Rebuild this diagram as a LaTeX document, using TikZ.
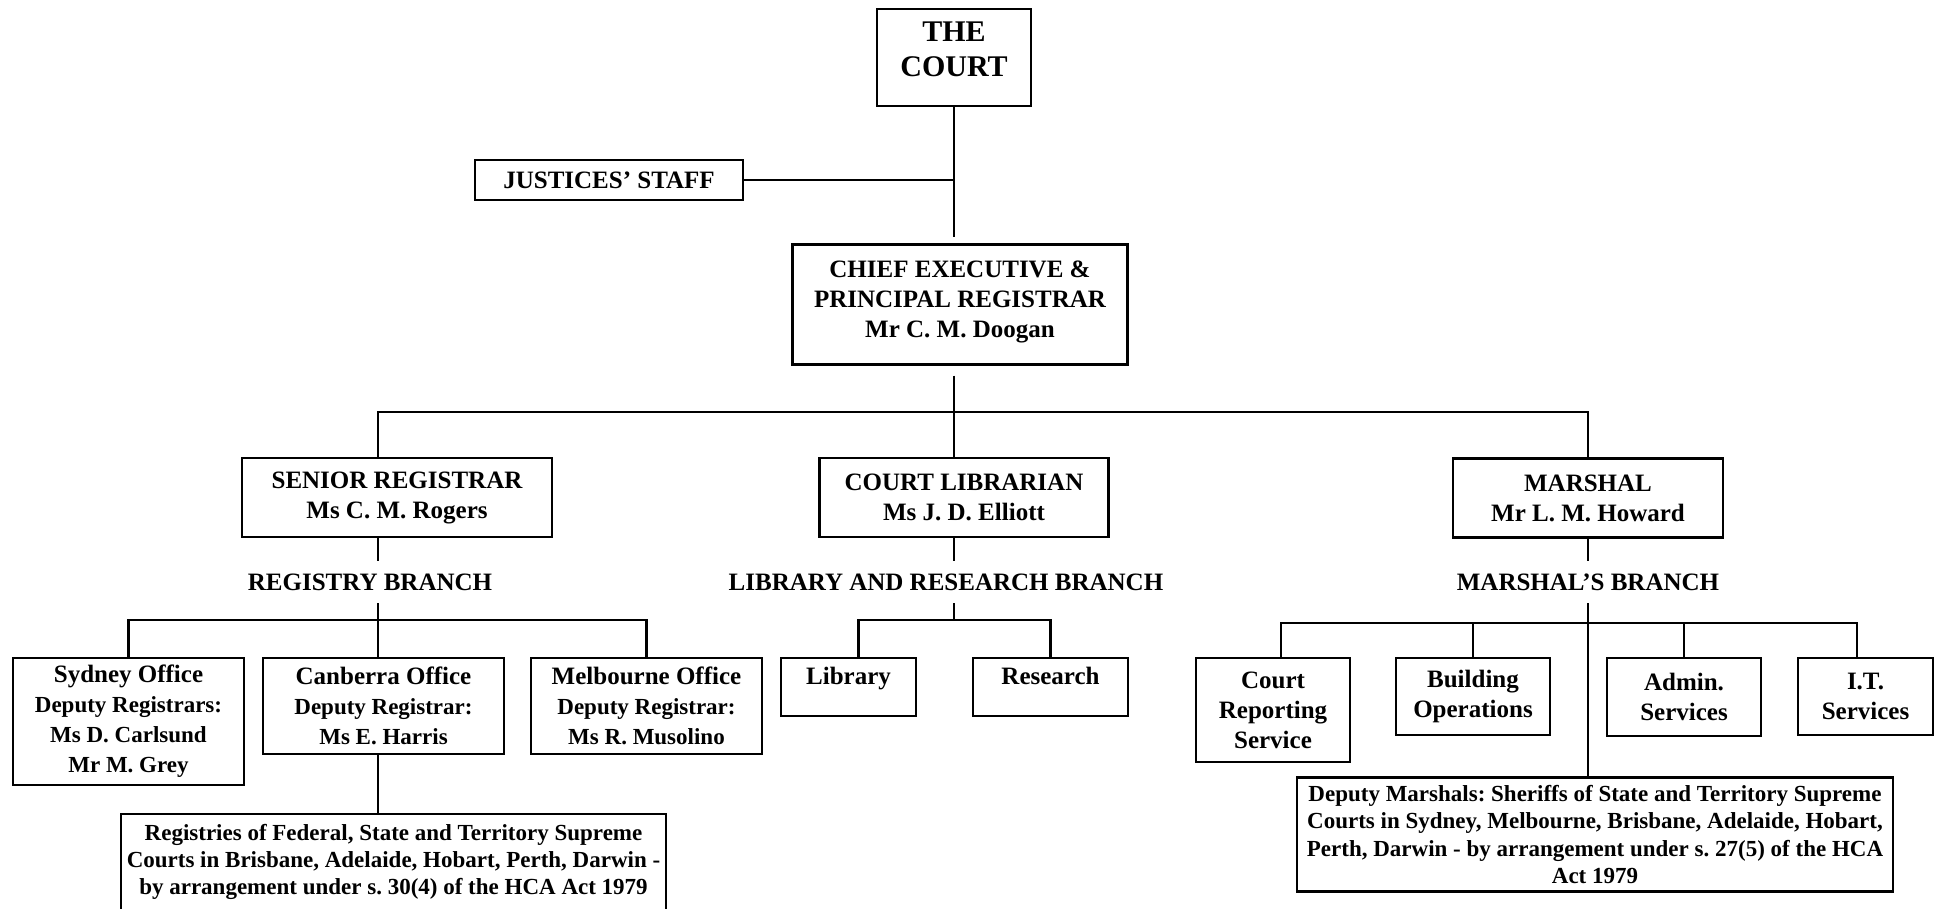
\documentclass[tikz,border=0pt]{standalone}
\usepackage{fontspec}
\setmainfont{Liberation Serif}
\usepackage{tikz}
\usetikzlibrary{positioning}
\tikzstyle{box} = [draw, fill=white, rectangle, line width=1.1pt, align=center, inner sep=2pt,
                   font=\fontsize{12.5}{15}\selectfont\bfseries]
\tikzstyle{branch} = [inner sep=0pt, minimum height=20pt, font=\fontsize{12.5}{15}\selectfont\bfseries]
\newcommand{\sm}{\fontsize{11.5}{13.6}\selectfont}
\frenchspacing

\begin{document}
\begin{tikzpicture}[x=0.5pt, y=-0.5pt, line width=1.1pt]
    \useasboundingbox (0,0) rectangle (1943,909);
    % top of the chart
    \node [box, font=\fontsize{15}{17.5}\selectfont\bfseries, minimum width=77pt, minimum height=48.5pt, text depth=8pt] (court) at (954,57.5) {THE\\COURT};
    \node [box, minimum width=134pt, minimum height=20pt] (staff) at (609,180) {JUSTICES’ STAFF};
    \node [box, minimum width=167.5pt, minimum height=60pt, text depth=5pt] (chief) at (960,304.5) {CHIEF EXECUTIVE \&\\PRINCIPAL REGISTRAR\\Mr C. M. Doogan};
    % heads of branches
    \node [box, minimum width=155pt, minimum height=39.5pt] (senior) at (397,497.5) {SENIOR REGISTRAR\\Ms C. M. Rogers};
    \node [box, minimum width=144.5pt, minimum height=39.5pt] (librarian) at (964,497.5) {COURT LIBRARIAN\\Ms J. D. Elliott};
    \node [box, minimum width=135pt, minimum height=39.5pt] (marshal) at (1588,498) {MARSHAL\\Mr L. M. Howard};
    \node [branch] (regbranch) at (370,582) {REGISTRY BRANCH};
    \node [branch] (libbranch) at (946,582) {LIBRARY AND RESEARCH BRANCH};
    \node [branch] (marbranch) at (1588,582) {MARSHAL’S BRANCH};
    % registry branch
    \node [box, minimum width=115.5pt, minimum height=63.5pt] (sydney) at (128.5,721.5) {Sydney Office\\\sm Deputy Registrars:\\\sm Ms D. Carlsund\\\sm Mr M. Grey};
    \node [box, minimum width=120.5pt, minimum height=48pt] (canberra) at (383.5,706) {Canberra Office\\\sm Deputy Registrar:\\\sm Ms E. Harris};
    \node [box, minimum width=115.5pt, minimum height=48pt] (melbourne) at (646.5,706) {Melbourne Office\\\sm Deputy Registrar:\\\sm Ms R. Musolino};
    \node [box, font=\sm\bfseries, minimum width=272.5pt, minimum height=48pt] (registries) at (393.5,862) {Registries of Federal, State and Territory Supreme\\Courts in Brisbane, Adelaide, Hobart, Perth, Darwin -\\by arrangement under s. 30(4) of the HCA Act 1979};
    % library branch
    \node [box, minimum width=67.5pt, minimum height=29pt, text depth=11pt] (library) at (848.5,687) {Library};
    \node [box, minimum width=77.5pt, minimum height=29pt, text depth=11pt] (research) at (1050.5,687) {Research};
    % marshal's branch
    \node [box, minimum width=77pt, minimum height=52pt] (reporting) at (1273,710) {Court\\Reporting\\Service};
    \node [box, minimum width=77pt, minimum height=38.5pt] (building) at (1473,696.5) {Building\\Operations};
    \node [box, minimum width=77pt, minimum height=39pt] (admin) at (1684,697) {Admin.\\Services};
    \node [box, minimum width=67.5pt, minimum height=38.5pt] (itserv) at (1865.5,696.5) {I.T.\\Services};
    \node [box, font=\sm\bfseries, minimum width=298pt, minimum height=57pt] (deputies) at (1595,834.5) {Deputy Marshals: Sheriffs of State and Territory Supreme\\Courts in Sydney, Melbourne, Brisbane, Adelaide, Hobart,\\Perth, Darwin - by arrangement under s. 27(5) of the HCA\\Act 1979};

    \coordinate (topbar) at (954,412);
    \coordinate (regbar) at (378,620);
    \coordinate (libbar) at (954,620);
    \coordinate (marbar) at (1588,623);

    \draw (court.south) -- ([yshift=3pt]chief.north -| court.south);
    \draw (staff.east) -- (staff.east -| court.south);
    \draw ([yshift=-5pt]chief.south -| topbar) -- (librarian.north -| topbar);
    \draw (senior.north -| regbar) -- (regbar |- topbar) -- (marshal.north |- topbar) -- (marshal.north);
    % registry
    \draw (senior.south -| regbar) -- (regbranch.north -| regbar);
    \draw (regbranch.south -| regbar) -- (regbar);
    \draw (sydney.north) |- (regbar) -| (melbourne.north);
    \draw (regbar) -- (canberra.north -| regbar);
    \draw (canberra.south -| regbar) -- (registries.north -| regbar);
    % library
    \draw (librarian.south -| libbar) -- (libbranch.north -| libbar);
    \draw (libbranch.south -| libbar) -- (libbar);
    \draw ([xshift=5pt]library.north) |- (libbar) -| (research.north);
    % marshal
    \draw (marshal.south -| marbar) -- (marbranch.north -| marbar);
    \draw (marbranch.south -| marbar) -- (deputies.north -| marbar);
    \draw ([xshift=4pt]reporting.north) |- (marbar) -| ([xshift=-4.25pt]itserv.north);
    \draw (building.north) -- (building.north |- marbar);
    \draw (admin.north) -- (admin.north |- marbar);
\end{tikzpicture}
\end{document}
